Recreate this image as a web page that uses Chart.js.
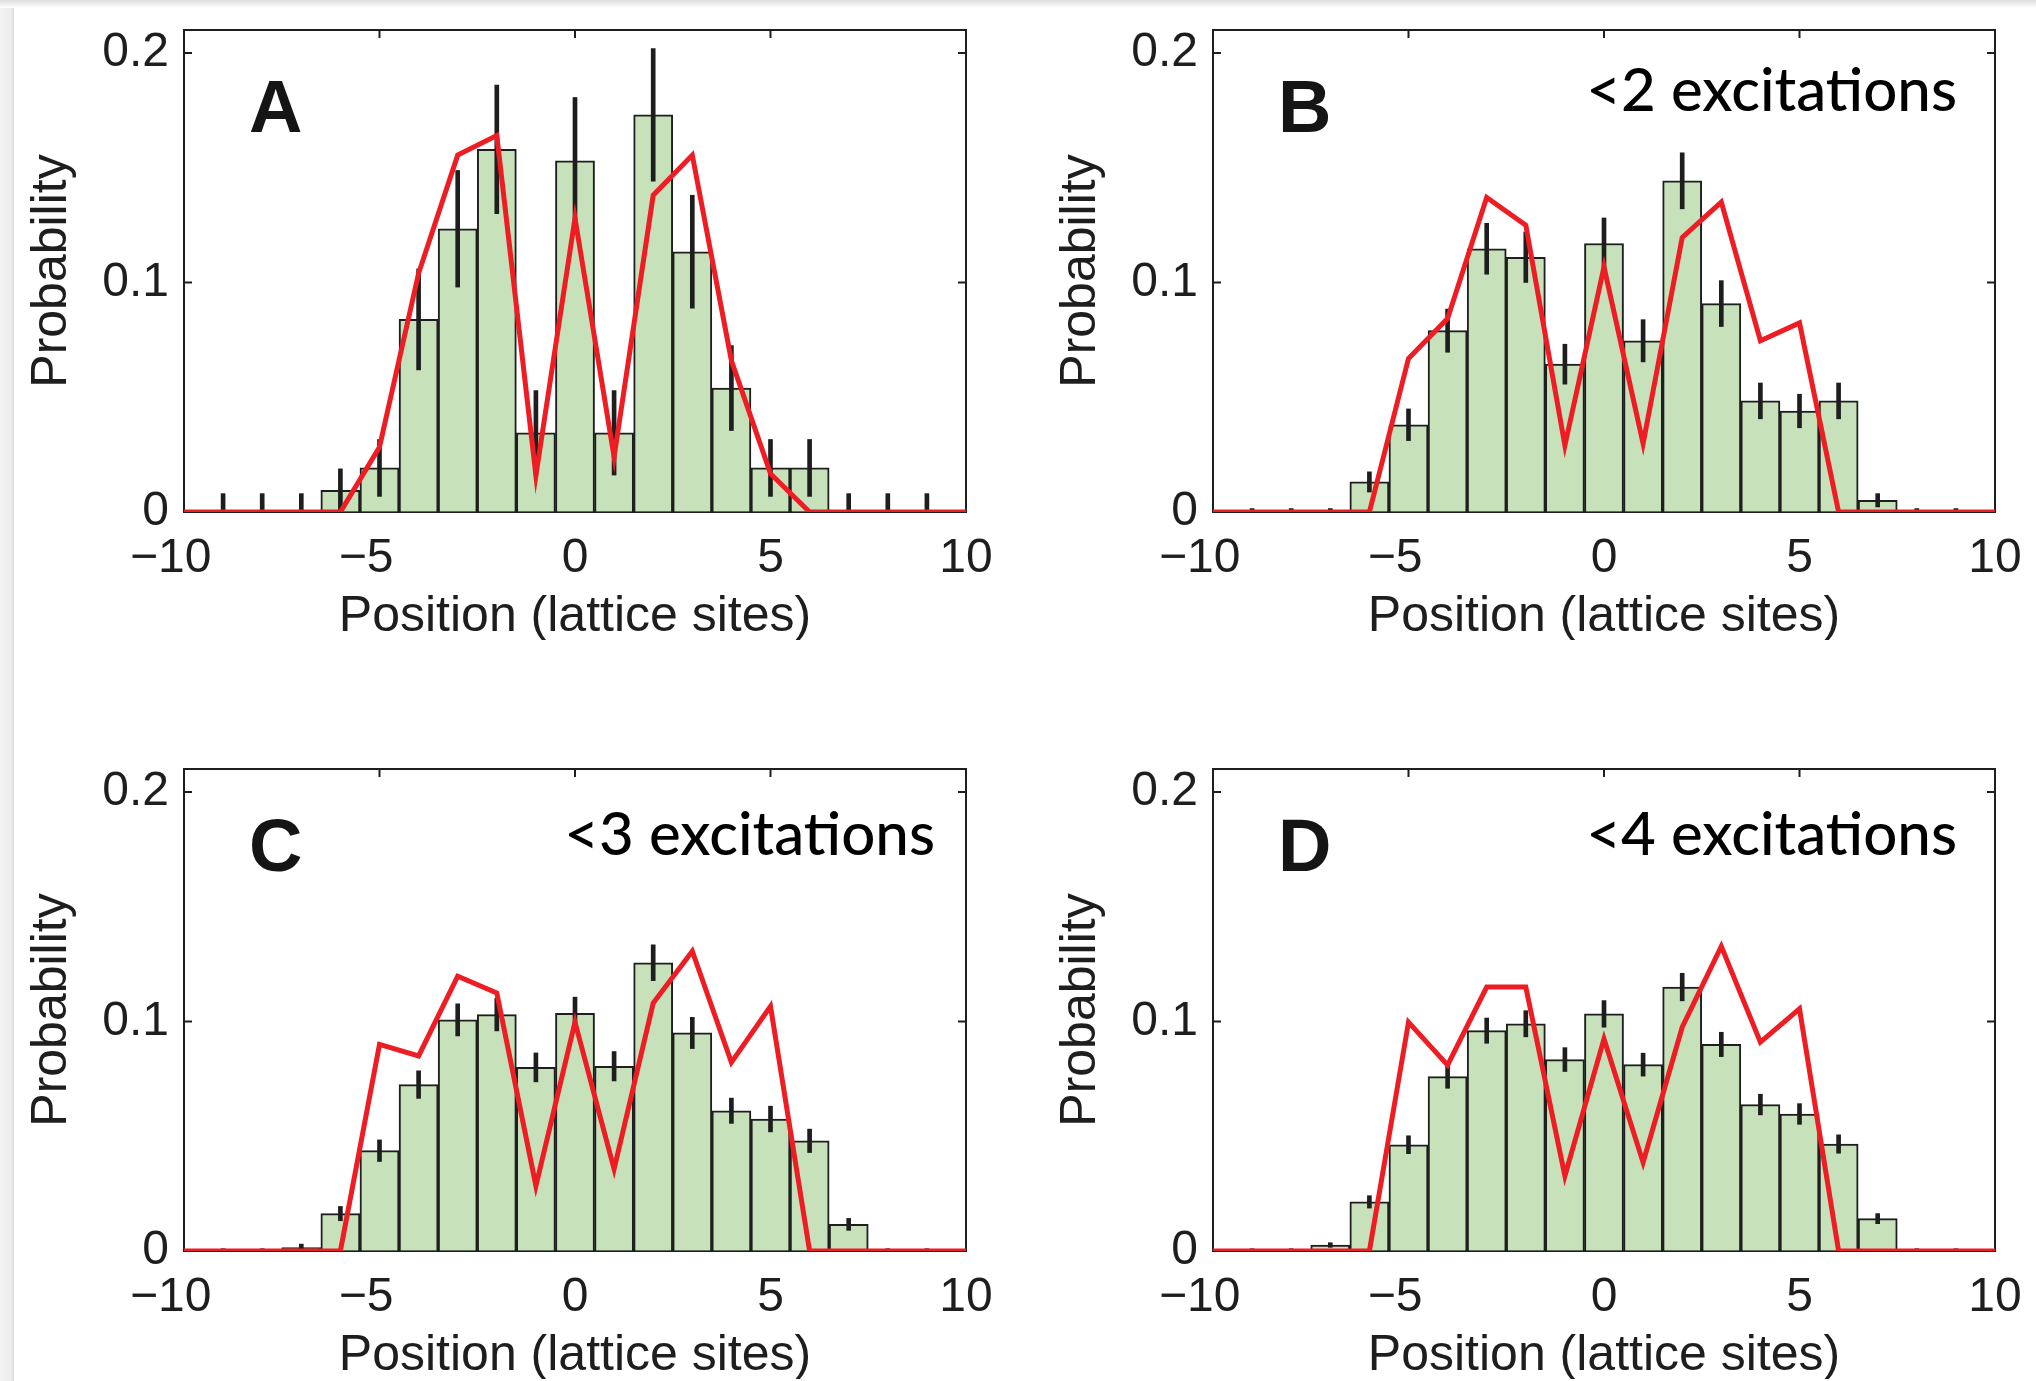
<!DOCTYPE html>
<html>
<head>
<meta charset="utf-8">
<script src="https://cdn.jsdelivr.net/npm/chart.js@4.4.0/dist/chart.umd.min.js"></script>
<style>
  html, body { margin: 0; padding: 0; background: #fff; }
  body { width: 2036px; height: 1381px; position: relative; overflow: hidden; }
  #edgeLeft { position: absolute; left: 0; top: 0; width: 14px; height: 1381px;
              background: linear-gradient(to right, #f4f4f4, #ececec 80%, #dadada); }
  #edgeTop { position: absolute; left: 0; top: 0; width: 2036px; height: 8px;
             background: linear-gradient(#dedede, #ffffff); }
  canvas { position: absolute; }
</style>
</head>
<body>
<div id="edgeLeft"></div>
<div id="edgeTop"></div>
<canvas id="chartA" width="1006" height="640" style="left:0px;top:0px"></canvas>
<canvas id="chartB" width="1006" height="640" style="left:1029px;top:0px"></canvas>
<canvas id="chartC" width="1006" height="640" style="left:0px;top:739px"></canvas>
<canvas id="chartD" width="1006" height="640" style="left:1029px;top:739px"></canvas>
<script>
// lattice sites -10 .. 10
var positions = [-10, -9, -8, -7, -6, -5, -4, -3, -2, -1, 0, 1, 2, 3, 4, 5, 6, 7, 8, 9, 10];
var xTicks = [-10, -5, 0, 5, 10];
var yTicks = [0, 0.1, 0.2];

// A: all data
var barsA  = [0, 0, 0, 0, 0.0094, 0.0192, 0.0839, 0.1234, 0.158, 0.0345, 0.153, 0.0345, 0.173, 0.1134, 0.054, 0.0192, 0.0192, 0, 0, 0, 0];
var errA   = [0, 0.008, 0.008, 0.008, 0.0094, 0.0124, 0.022, 0.0254, 0.028, 0.0184, 0.0276, 0.0184, 0.0289, 0.0246, 0.0185, 0.0124, 0.0124, 0.008, 0.008, 0.008, 0];
var modelA = [0, 0, 0, 0, 0, 0.0283, 0.104, 0.1555, 0.164, 0.016, 0.128, 0.024, 0.138, 0.1555, 0.066, 0.0167, 0, 0, 0, 0, 0];

// B: <2 excitations
var barsB  = [0, 0, 0, 0, 0.0131, 0.038, 0.079, 0.1147, 0.111, 0.0644, 0.117, 0.0746, 0.1443, 0.0908, 0.0484, 0.044, 0.0484, 0.0051, 0, 0, 0];
var errB   = [0, 0.0015, 0.0015, 0.0015, 0.0044, 0.0069, 0.0094, 0.0111, 0.011, 0.0087, 0.0111, 0.0092, 0.0122, 0.010, 0.0078, 0.0073, 0.0078, 0.0029, 0.0015, 0.0015, 0];
var modelB = [0, 0, 0, 0, 0, 0.0669, 0.0843, 0.137, 0.125, 0.029, 0.1068, 0.0298, 0.1196, 0.135, 0.0746, 0.0824, 0, 0, 0, 0, 0];

// C: <3 excitations
var barsC  = [0, 0, 0, 0.0015, 0.0163, 0.0437, 0.0725, 0.1007, 0.103, 0.080, 0.1036, 0.0805, 0.1256, 0.095, 0.0611, 0.0575, 0.048, 0.0116, 0, 0, 0];
var errC   = [0, 0.001, 0.001, 0.0015, 0.0031, 0.0047, 0.006, 0.007, 0.0071, 0.0063, 0.007, 0.0064, 0.0078, 0.0068, 0.0055, 0.0056, 0.0051, 0.0026, 0.001, 0.001, 0];
var modelC = [0, 0, 0, 0, 0, 0.090, 0.085, 0.1197, 0.1124, 0.0284, 0.0997, 0.0357, 0.108, 0.1306, 0.0822, 0.1066, 0, 0, 0, 0, 0];

// D: <4 excitations
var barsD  = [0, 0, 0, 0.0026, 0.0214, 0.0463, 0.076, 0.096, 0.099, 0.0834, 0.1033, 0.0812, 0.115, 0.090, 0.0638, 0.0597, 0.0466, 0.0141, 0, 0, 0];
var errD   = [0, 0.001, 0.001, 0.001, 0.0027, 0.0039, 0.0051, 0.0055, 0.0057, 0.0052, 0.0058, 0.005, 0.006, 0.0053, 0.0045, 0.0045, 0.004, 0.0022, 0.001, 0.001, 0];
var modelD = [0, 0, 0, 0, 0, 0.0997, 0.081, 0.115, 0.115, 0.0327, 0.0924, 0.0386, 0.0975, 0.1327, 0.091, 0.1055, 0, 0, 0, 0, 0];

var INK = '#1e1e1e';
var RED = '#ee1d24';
var GREEN = '#c7e2ba';
var CLEAR = 'rgba(0,0,0,0)';

Chart.defaults.font.family = '"Liberation Sans", Arial, Helvetica, sans-serif';
Chart.defaults.color = INK;

// box with inward ticks, plus the panel letter and caption
var panelPlugin = {
  id: 'panel',
  beforeDatasetsDraw: function(chart) {
    var ctx = chart.ctx, a = chart.chartArea, x = chart.scales.x, y = chart.scales.y;
    ctx.save();
    ctx.strokeStyle = INK;
    ctx.lineWidth = 2;
    ctx.strokeRect(a.left, a.top, a.right - a.left, a.bottom - a.top);
    ctx.beginPath();
    xTicks.slice(1, -1).forEach(function(v) {
      var px = x.getPixelForValue(v);
      ctx.moveTo(px, a.top); ctx.lineTo(px, a.top + 8);
      ctx.moveTo(px, a.bottom); ctx.lineTo(px, a.bottom - 8);
    });
    yTicks.slice(1).forEach(function(v) {
      var py = y.getPixelForValue(v);
      ctx.moveTo(a.left, py); ctx.lineTo(a.left + 8, py);
      ctx.moveTo(a.right, py); ctx.lineTo(a.right - 8, py);
    });
    ctx.stroke();
    ctx.restore();
  },
  afterDraw: function(chart, args, opts) {
    var ctx = chart.ctx, a = chart.chartArea;
    ctx.save();
    ctx.fillStyle = '#151515';
    ctx.textBaseline = 'alphabetic';
    ctx.textAlign = 'left';
    ctx.font = 'bold 74px "Liberation Sans", Arial, sans-serif';
    ctx.fillText(opts.letter, a.left + 65, a.top + 102);
    if (opts.note) {
      ctx.textAlign = 'right';
      ctx.font = '500 60px Lato, "Open Sans", sans-serif';
      ctx.fillStyle = '#000';
      ctx.fillText(opts.note, a.right - opts.noteRight, a.top + opts.noteBase);
    }
    ctx.restore();
  }
};

// negative labels keep the digits centred on the tick, the minus hangs left
function xLabel(v) {
  return v < 0 ? '\u2212' + (-v) + '\u2007' : String(v);
}

function makePanel(canvasId, bars, errs, model, letter, note, noteRight, noteBase) {
  var histData = positions.map(function(x, i) { return {x: x, y: bars[i]}; });
  var errData = [];
  positions.forEach(function(x, i) {
    if (errs[i] > 0) errData.push({x: x, y: [Math.max(0, bars[i] - errs[i]), bars[i] + errs[i]]});
  });
  var modelData = positions.map(function(x, i) { return {x: x, y: model[i]}; });

  return new Chart(document.getElementById(canvasId), {
    type: 'bar',
    data: {
      datasets: [
        {
          type: 'line',
          data: modelData,
          borderColor: RED,
          borderWidth: 5,
          pointRadius: 0,
          tension: 0,
          borderJoinStyle: 'miter',
          order: 1
        },
        {
          type: 'bar',
          data: errData,
          backgroundColor: INK,
          borderWidth: 0,
          barThickness: 4,
          grouped: false,
          order: 2
        },
        {
          type: 'bar',
          data: histData,
          backgroundColor: GREEN,
          borderColor: INK,
          borderWidth: 2,
          barPercentage: 1,
          categoryPercentage: 1,
          grouped: false,
          order: 3
        }
      ]
    },
    options: {
      responsive: false,
      animation: false,
      devicePixelRatio: 1,
      layout: { padding: { left: 0, top: 30, right: 40, bottom: 0 } },
      plugins: {
        legend: { display: false },
        tooltip: { enabled: false },
        panel: { letter: letter, note: note, noteRight: noteRight, noteBase: noteBase }
      },
      scales: {
        x: {
          type: 'linear',
          min: -10,
          max: 10,
          offset: false,
          grid: { display: true, drawOnChartArea: false, drawTicks: true, tickLength: 18, color: CLEAR },
          border: { display: false },
          afterBuildTicks: function(s) { s.ticks = xTicks.map(function(v) { return {value: v}; }); },
          afterFit: function(s) { s.height = 128; },
          ticks: {
            font: { size: 48 },
            color: INK,
            padding: 0,
            maxRotation: 0,
            minRotation: 0,
            autoSkip: false,
            callback: xLabel
          },
          title: {
            display: true,
            text: 'Position (lattice sites)',
            font: { size: 50 },
            color: INK,
            padding: { top: 0, bottom: -7 }
          }
        },
        y: {
          min: 0,
          max: 0.21,
          grid: { display: true, drawOnChartArea: false, drawTicks: true, tickLength: 15, color: CLEAR },
          border: { display: false },
          afterBuildTicks: function(s) { s.ticks = yTicks.map(function(v) { return {value: v}; }); },
          afterFit: function(s) { s.width = 184; },
          ticks: {
            font: { size: 48 },
            color: INK,
            padding: 0,
            callback: function(v) { return String(v); }
          },
          title: {
            display: true,
            text: 'Probability',
            font: { size: 50 },
            color: INK,
            padding: { top: 22, bottom: 0 }
          }
        }
      }
    },
    plugins: [panelPlugin]
  });
}

makePanel('chartA', barsA, errA, modelA, 'A', '', 0, 0);
makePanel('chartB', barsB, errB, modelB, 'B', '<2 excitations', 38, 81);
makePanel('chartC', barsC, errC, modelC, 'C', '<3 excitations', 31, 86);
makePanel('chartD', barsD, errD, modelD, 'D', '<4 excitations', 38, 86);
</script>
</body>
</html>
